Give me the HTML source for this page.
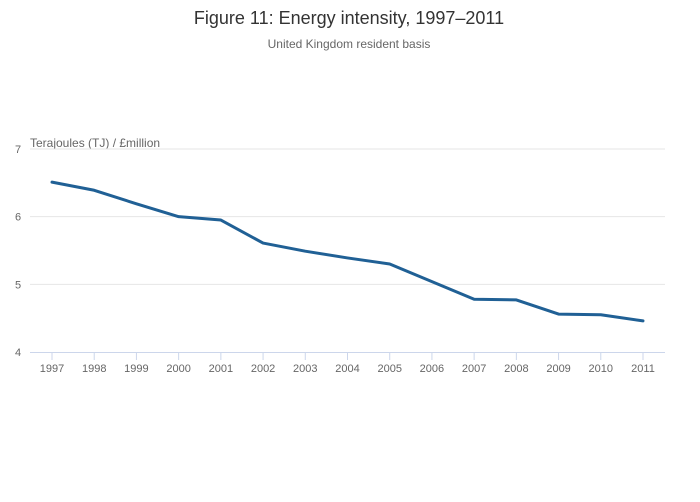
<!DOCTYPE html>
<html><head><meta charset="utf-8"><style>
html,body{margin:0;padding:0;background:#fff;}
svg{display:block;font-family:"Liberation Sans",sans-serif;}
</style></head><body>
<svg id="chart" width="700" height="502">
<text x="349" y="24" text-anchor="middle" font-size="18" fill="#333">Figure 11: Energy intensity, 1997–2011</text>
<text x="349" y="48" text-anchor="middle" font-size="12" fill="#666">United Kingdom resident basis</text>
<text x="30" y="147" font-size="12" fill="#666">Terajoules (TJ) / £million</text>
<g id="grid"></g><g id="axes"></g><g id="series"></g>
</svg>
<script>
const years=[1997,1998,1999,2000,2001,2002,2003,2004,2005,2006,2007,2008,2009,2010,2011];
const values=[6.51,6.39,6.19,6.0,5.95,5.61,5.49,5.39,5.30,5.04,4.78,4.77,4.56,4.55,4.46];
const yTicks=[4,5,6,7];
const NS="http://www.w3.org/2000/svg";
const x0=52,x1=643,yTop=149,yBot=352,yMin=4,yMax=7;
function xs(i){return x0+(x1-x0)*i/(years.length-1);}
function ys(v){return yBot-(v-yMin)/(yMax-yMin)*(yBot-yTop);}
function mk(t,a,p){const e=document.createElementNS(NS,t);for(const k in a)e.setAttribute(k,a[k]);p.appendChild(e);return e;}
const grid=document.getElementById('grid'),axes=document.getElementById('axes'),ser=document.getElementById('series');
yTicks.forEach(v=>{
  if(v>yMin){const l=mk('line',{x1:30,x2:665,y1:ys(v),y2:ys(v),stroke:'#e6e6e6','stroke-width':1},grid);
  
  }
  const t=mk('text',{x:15,y:ys(v)+4,'font-size':11,fill:'#666'},axes);t.textContent=v;
  
  
});
const ax=mk('line',{x1:30,x2:665,y1:yBot+0.5,y2:yBot+0.5,stroke:'#ccd6eb','stroke-width':1},axes);


years.forEach((yr,i)=>{
  const tk=mk('line',{x1:xs(i),x2:xs(i),y1:yBot,y2:yBot+8,stroke:'#ccd6eb'},axes);
  
  
  const t=mk('text',{x:xs(i),y:yBot+20,'text-anchor':'middle','font-size':11,fill:'#666'},axes);t.textContent=yr;
  
  
});
const d=values.map((v,i)=>(i?'L':'M')+xs(i)+' '+ys(v)).join(' ');
const p=mk('path',{d:d,fill:'none',stroke:'#206095','stroke-width':3,'stroke-linejoin':'round','stroke-linecap':'round'},ser);


</script>
</body></html>
